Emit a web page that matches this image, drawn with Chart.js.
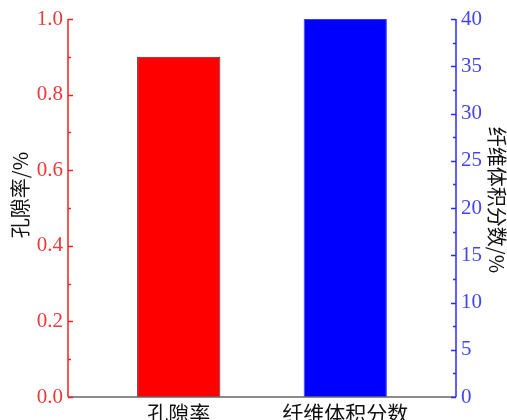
<!DOCTYPE html>
<html>
<head>
<meta charset="utf-8">
<script src="https://cdn.jsdelivr.net/npm/chart.js@4/dist/chart.umd.min.js"></script>
<style>
  html, body { margin: 0; padding: 0; background: #fff; }
</style>
</head>
<body>
<canvas id="chart" width="507" height="420"></canvas>
<script>
// Chart data
const categories = ['孔隙率', '纤维体积分数'];
const porosity = [0.9];        // left axis, 孔隙率/%
const fiberFraction = [40];    // right axis, 纤维体积分数/%
const axisTitles = ['孔隙率/%', '纤维体积分数/%'];

const serif = "'Liberation Serif', 'Noto Sans CJK SC', serif";
const cjk = "'Noto Sans CJK SC', 'Liberation Serif', sans-serif";

// Draw axis lines with inward major/minor ticks
function drawAxis(ctx, scale, x, dir, color, minorStep) {
    ctx.strokeStyle = color;
    ctx.lineWidth = 1.5;
    ctx.beginPath();
    ctx.moveTo(x, scale.top);
    ctx.lineTo(x, scale.bottom);
    ctx.stroke();
    const n = Math.round((scale.max - scale.min) / minorStep);
    for (let i = 0; i <= n; i++) {
        const y = Math.round(scale.getPixelForValue(scale.min + i * minorStep)) + 0.5;
        const len = i % 2 === 0 ? 5 : 3;
        ctx.beginPath();
        ctx.moveTo(x, y);
        ctx.lineTo(x + dir * len, y);
        ctx.stroke();
    }
}

function drawTitle(ctx, text, x, y, angle) {
    ctx.save();
    ctx.translate(x, y);
    ctx.rotate(angle);
    ctx.fillStyle = '#111';
    ctx.font = '20px ' + cjk;
    ctx.textAlign = 'center';
    ctx.textBaseline = 'middle';
    ctx.fillText(text, 0, 0);
    ctx.restore();
}

const axisDecor = {
    id: 'axisDecor',
    afterDatasetsDraw(chart) {
        const { ctx, chartArea: a, scales } = chart;
        ctx.save();
        ctx.strokeStyle = '#666';
        ctx.lineWidth = 1.5;
        ctx.beginPath();
        ctx.moveTo(a.left, a.bottom);
        ctx.lineTo(a.right, a.bottom);
        ctx.stroke();
        drawAxis(ctx, scales.y, a.left, 1, '#f02020', 0.1);
        drawAxis(ctx, scales.y1, a.right, -1, '#2a2aff', 2.5);
        ctx.restore();
        drawTitle(ctx, axisTitles[0], 20, 195, -Math.PI / 2);
        drawTitle(ctx, axisTitles[1], 497, 200, Math.PI / 2);
    }
};

new Chart(document.getElementById('chart'), {
    type: 'bar',
    data: {
        datasets: [{
            data: porosity.map((v, i) => ({ x: i + 1, y: v })),
            yAxisID: 'y',
            backgroundColor: '#ff0000',
            borderColor: '#333',
            borderWidth: 1
        }, {
            data: fiberFraction.map((v, i) => ({ x: i + 2, y: v })),
            yAxisID: 'y1',
            backgroundColor: '#0000ff',
            borderColor: '#3a3aff',
            borderWidth: 1
        }]
    },
    options: {
        responsive: false,
        animation: false,
        devicePixelRatio: 1,
        layout: { padding: { top: 19, left: 0, right: 0, bottom: 0 } },
        plugins: { legend: { display: false }, tooltip: { enabled: false } },
        datasets: { bar: { grouped: false, barPercentage: 0.5, categoryPercentage: 1 } },
        scales: {
            x: {
                type: 'linear',
                offset: false,
                min: 0.335,
                max: 2.665,
                grid: { display: false, drawTicks: false },
                border: { display: false },
                afterBuildTicks: scale => { scale.ticks = categories.map((c, i) => ({ value: i + 1 })); },
                afterFit: scale => { scale.height = 23; },
                ticks: {
                    autoSkip: false,
                    maxRotation: 0,
                    padding: 3,
                    color: '#111',
                    font: { family: cjk, size: 21 },
                    callback: v => categories[Math.round(v) - 1]
                }
            },
            y: {
                position: 'left',
                min: 0,
                max: 1,
                grid: { display: false, drawTicks: false },
                border: { display: false },
                afterFit: scale => { scale.width = 68; },
                ticks: {
                    stepSize: 0.2,
                    padding: 5,
                    color: '#ea3a3a',
                    font: { family: serif, size: 21 },
                    callback: v => v.toFixed(1)
                }
            },
            y1: {
                position: 'right',
                min: 0,
                max: 40,
                grid: { display: false, drawTicks: false },
                border: { display: false },
                afterFit: scale => { scale.width = 51; },
                ticks: {
                    stepSize: 5,
                    padding: 5,
                    color: '#4444f0',
                    font: { family: serif, size: 21 }
                }
            }
        }
    },
    plugins: [axisDecor]
});
</script>
</body>
</html>
